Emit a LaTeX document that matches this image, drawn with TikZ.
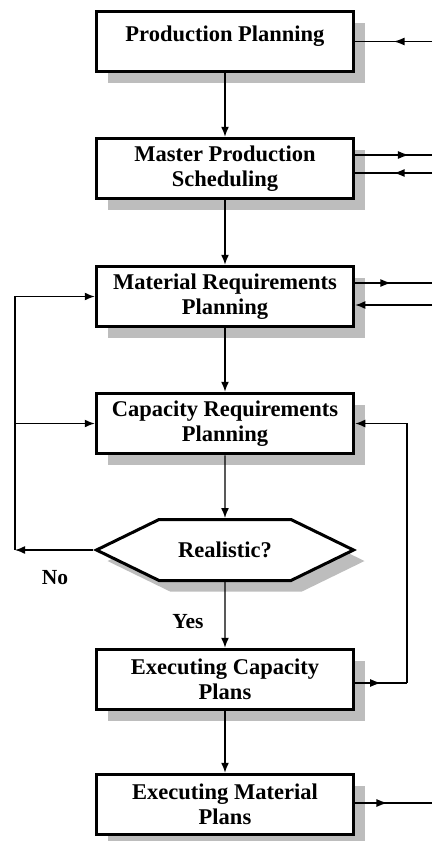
\documentclass[tikz,border=0pt]{standalone}
\usepackage{fontspec}
\setmainfont{Liberation Serif}
\usetikzlibrary{arrows.meta, shapes.symbols, shadows, decorations.markings}
\definecolor{boxshadow}{HTML}{BDBDBD}

\tikzset{
  planbox/.style={draw, line width=3.5pt, fill=white, minimum width=257pt, minimum height=60pt,
    align=center, font=\bfseries\fontsize{22.5}{25}\selectfont,
    drop shadow={shadow xshift=11pt, shadow yshift=-11pt, fill=boxshadow, opacity=1}},
  decision/.style={signal, signal to=west and east, signal pointer angle=52, draw, line width=3pt,
    fill=white, minimum width=257pt, minimum height=61pt, font=\bfseries\fontsize{22.5}{25}\selectfont,
    drop shadow={shadow xshift=11pt, shadow yshift=-11pt, fill=boxshadow, opacity=1}},
  flow/.style={line width=1.4pt, -{Latex[length=10pt,width=8pt]}},
  midarrow/.style={line width=1.4pt, postaction={decorate},
    decoration={markings, mark=at position #1 with {\arrow{Latex[length=11pt,width=8pt]}}}},
  answer/.style={font=\bfseries\fontsize{21.5}{23}\selectfont}
}

\begin{document}
\begin{tikzpicture}[x=1pt, y=-1pt]
    \useasboundingbox (0,0) rectangle (432,841);

    % Planning steps
    \node[planbox, text depth=16pt] (pp) at (225,41.5) {Production Planning};
    \node[planbox] (mps) at (225,168.5) {Master Production\\Scheduling};
    \node[planbox] (mrp) at (225,296.5) {Material Requirements\\Planning};
    \node[planbox] (crp) at (225,423.5) {Capacity Requirements\\Planning};
    \node[decision] (real) at (225,550) {Realistic?};
    \node[planbox] (ecp) at (225,679.5) {Executing Capacity\\Plans};
    \node[planbox] (emp) at (225,804.5) {Executing Material\\Plans};

    % Answers
    \node[answer] (no) at (55,578) {No};
    \node[answer] (yes) at (188,622) {Yes};

    % Main flow
    \foreach \a/\b in {pp/mps, mps/mrp, mrp/crp, crp/real, real/ecp, ecp/emp}
        \draw[flow] (\a) -- (\b);

    % Links at the right edge
    \coordinate (ppR) at (432,41.5);
    \coordinate (mpsRout) at (432,155);
    \coordinate (mpsRin) at (432,173);
    \coordinate (mrpRout) at (432,283);
    \coordinate (mrpRin) at (432,305);
    \coordinate (empR) at (432,803);
    \draw[midarrow=0.5] (ppR) -- (pp.east);
    \draw[midarrow=0.7] (mps.east |- mpsRout) -- (mpsRout);
    \draw[midarrow=0.5] (mpsRin) -- (mps.east |- mpsRin);
    \draw[midarrow=0.47] (mrp.east |- mrpRout) -- (mrpRout);
    \draw[flow] (mrpRin) -- (mrp.east |- mrpRin);
    \draw[midarrow=0.42] (emp.east |- empR) -- (empR);

    % Feedback from executing capacity plans
    \coordinate (rloop) at (407,683);
    \draw[midarrow=0.5] (ecp.east |- rloop) -- (rloop);
    \draw[flow] (rloop) |- (crp.east);

    % Not realistic
    \coordinate (lcorner) at (15,550);
    \draw[flow] (real.west) -- (lcorner);
    \draw[flow] (lcorner) |- (mrp.west);
    \draw[flow] (lcorner |- crp.west) -- (crp.west);
\end{tikzpicture}
\end{document}
